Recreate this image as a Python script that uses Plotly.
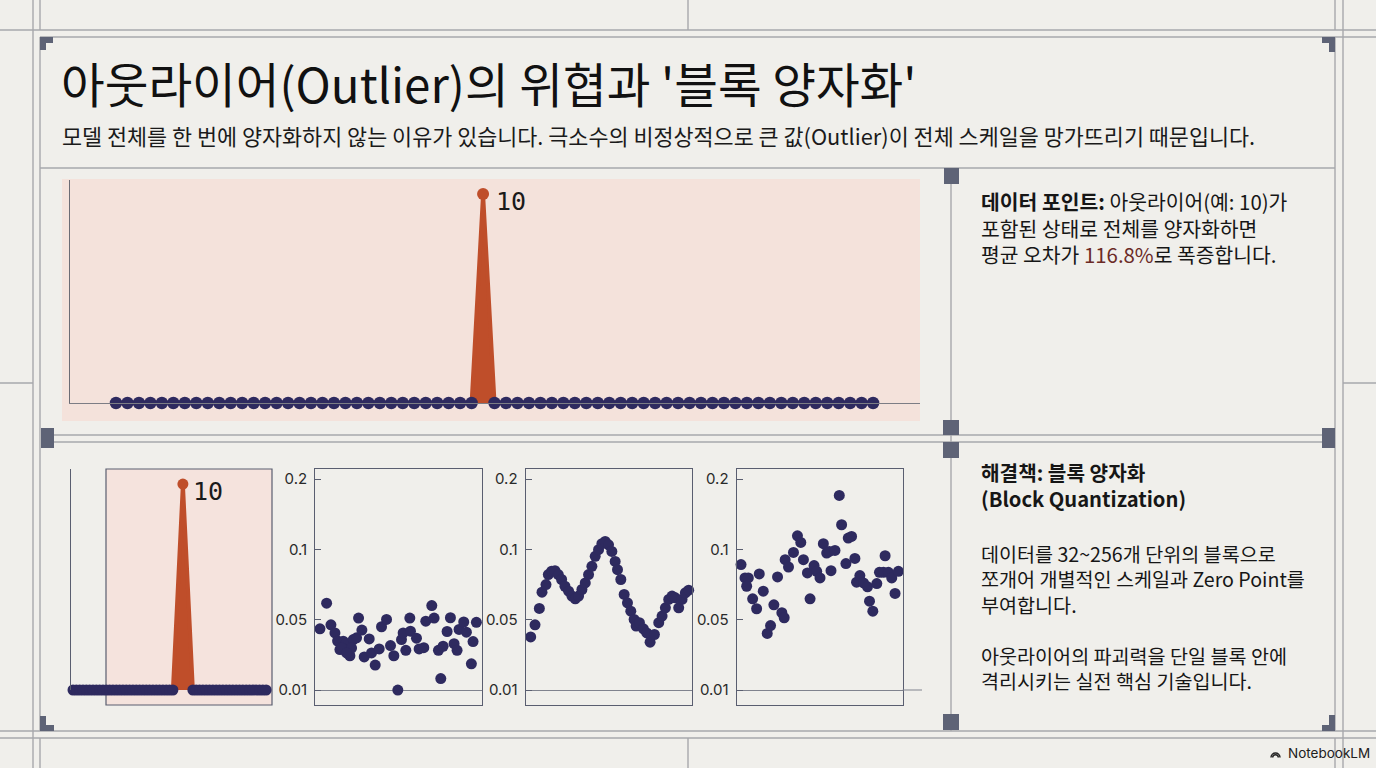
import numpy as np
import plotly.graph_objects as go

W, H = 1376, 768


def X(px):
    return px / W


def Y(py):
    return 1 - py / H


# ---------------- data ----------------
# full tensor (top chart): element index and value
top_index = list(range(67))
top_values = [
    0, 0, 0, 0, 0, 0, 0, 0, 0, 0, 0, 0, 0, 0, 0, 0,
    0, 0, 0, 0, 0, 0, 0, 0, 0, 0, 0, 0, 0, 0, 0, 0,
    10,
    0, 0, 0, 0, 0, 0, 0, 0, 0, 0, 0, 0, 0, 0, 0, 0, 0,
    0, 0, 0, 0, 0, 0, 0, 0, 0, 0, 0, 0, 0, 0, 0, 0, 0,
]

# block 1 (contains the outlier)
block1_index = list(range(0, 31)) + [33] + list(range(36, 59))
block1_values = [
    0, 0, 0, 0, 0, 0, 0, 0, 0, 0, 0, 0, 0, 0, 0, 0,
    0, 0, 0, 0, 0, 0, 0, 0, 0, 0, 0, 0, 0, 0, 0,
    10,
    0, 0, 0, 0, 0, 0, 0, 0, 0, 0, 0, 0, 0, 0, 0, 0,
    0, 0, 0, 0, 0, 0, 0,
]

# blocks 2-4 (element position inside block, value)
block2_x = [1.4, 3.4, 4.7, 5.9, 6.7, 7.4, 8.4, 9.2, 9.9, 10.4, 11.4, 12.4, 13.0, 14.0, 14.7,
            16.2, 16.9, 18.0, 19.2, 19.9, 21.4, 22.6, 23.6, 24.8, 25.9, 26.4, 27.2, 28.4,
            28.6, 30.4, 31.2, 32.6, 33.2, 35.0, 35.7, 37.0, 37.7, 38.4, 39.6, 40.6, 41.7,
            42.6, 43.2, 44.6, 45.4, 46.9, 47.4, 48.4, 7.9, 10.9, 9.4]
block2_y = [0.0448, 0.0618, 0.0471, 0.0425, 0.0379, 0.0330, 0.0378, 0.0364, 0.0330, 0.0295,
            0.0387, 0.0397, 0.0512, 0.0441, 0.0288, 0.0391, 0.0311, 0.0242, 0.0334, 0.0460,
            0.0502, 0.0353, 0.0295, 0.0100, 0.0387, 0.0425, 0.0326, 0.0512, 0.0435, 0.0395,
            0.0334, 0.0341, 0.0492, 0.0601, 0.0512, 0.0326, 0.0165, 0.0349, 0.0433, 0.0514,
            0.0364, 0.0326, 0.0445, 0.0487, 0.0429, 0.0249, 0.0376, 0.0485, 0.0339, 0.0339,
            0.0311]

block3_x = [1.5, 2.8, 4.1, 4.9, 6.1, 6.8, 7.8, 8.8, 9.8, 10.8, 11.8, 12.9, 13.9, 14.9, 15.9,
            16.9, 17.9, 18.9, 19.9, 20.9, 21.9, 22.9, 23.9, 24.9, 25.9, 26.9, 27.6, 28.6,
            29.6, 30.6, 31.6, 32.6, 33.2, 34.2, 35.4, 36.4, 37.4, 38.7, 40.0, 41.0, 42.0,
            43.0, 44.0, 45.0, 46.0, 47.0, 48.0, 49.0]
block3_y = [0.0402, 0.0471, 0.0580, 0.0696, 0.0750, 0.0821, 0.0845, 0.0849, 0.0821, 0.0786,
            0.0738, 0.0703, 0.0668, 0.0649, 0.0668, 0.0715, 0.0762, 0.0821, 0.0880, 0.0951,
            0.0998, 0.1081, 0.1114, 0.1066, 0.0986, 0.0915, 0.0856, 0.0786, 0.0680, 0.0620,
            0.0561, 0.0502, 0.0464, 0.0483, 0.0448, 0.0425, 0.0372, 0.0416, 0.0483, 0.0526,
            0.0585, 0.0644, 0.0668, 0.0656, 0.0585, 0.0644, 0.0691, 0.0710]

block4_x = [1.3, 2.5, 3.5, 3.0, 4.8, 6.0, 6.8, 8.0, 9.2, 10.2, 11.2, 12.3, 13.6, 14.3, 14.6,
            15.6, 17.1, 18.3, 19.3, 20.1, 21.3, 22.1, 23.3, 24.1, 25.1, 26.1, 27.1, 27.9,
            28.4, 29.6, 30.9, 31.6, 32.9, 33.6, 34.6, 35.6, 36.1, 37.1, 38.2, 39.4, 40.0,
            41.0, 42.2, 43.0, 44.2, 44.7, 45.7, 46.7, 47.7, 48.7]
block4_y = [0.0892, 0.0797, 0.0797, 0.0738, 0.0649, 0.0578, 0.0826, 0.0703, 0.0422, 0.0467,
            0.0606, 0.0804, 0.0550, 0.0514, 0.0927, 0.0875, 0.0979, 0.1194, 0.1100, 0.0927,
            0.0833, 0.0649, 0.0885, 0.0844, 0.0797, 0.1081, 0.0974, 0.0986, 0.0849, 0.0993,
            0.1768, 0.1351, 0.0899, 0.1161, 0.1185, 0.0936, 0.0767, 0.0814, 0.0762, 0.0734,
            0.0632, 0.0561, 0.0757, 0.0837, 0.0837, 0.0955, 0.0837, 0.0797, 0.0687, 0.0844]

ytick_values = [0.01, 0.05, 0.1, 0.2]
ytick_labels = ["0.01", "0.05", "0.1", "0.2"]
outlier_label = "10"

# ---------------- style ----------------
BG = "#f0efeb"
NAVY = "#2e2a5f"
ORANGE = "#bf4e2a"
PINK = "#f4e2db"
GRIDLINE = "#a7a8ac"
MARK = "#5e6376"
FRAME = "#5a5e70"
KR = "Noto Sans CJK KR"


def scale_pos(v):
    # equally spaced tick scale 0.01 / 0.05 / 0.1 / 0.2
    return np.interp(v, ytick_values, [0, 1, 2, 3])


fig = go.Figure()

# ---- top chart ----
o = int(np.argmax(top_values))
fig.add_trace(go.Scatter(
    x=top_index[o - 1:o + 2], y=top_values[o - 1:o + 2], mode="lines",
    fill="toself", fillcolor=ORANGE, line=dict(color=ORANGE, width=4),
    xaxis="x", yaxis="y", hoverinfo="skip", showlegend=False))
fig.add_trace(go.Scatter(
    x=[top_index[i] for i in range(len(top_values)) if i != o],
    y=[top_values[i] for i in range(len(top_values)) if i != o],
    mode="markers", marker=dict(color=NAVY, size=12.5),
    cliponaxis=False, xaxis="x", yaxis="y", showlegend=False))
fig.add_trace(go.Scatter(
    x=[top_index[o]], y=[top_values[o]], mode="markers",
    marker=dict(color=ORANGE, size=12), cliponaxis=False,
    xaxis="x", yaxis="y", showlegend=False))

# ---- block 1 ----
o1 = int(np.argmax(block1_values))
fig.add_trace(go.Scatter(
    x=block1_index[o1 - 1:o1 + 2], y=block1_values[o1 - 1:o1 + 2], mode="lines",
    fill="toself", fillcolor=ORANGE, line=dict(color=ORANGE, width=4),
    xaxis="x2", yaxis="y2", hoverinfo="skip", showlegend=False))
fig.add_trace(go.Scatter(
    x=[block1_index[i] for i in range(len(block1_values)) if i != o1],
    y=[block1_values[i] for i in range(len(block1_values)) if i != o1],
    mode="markers", marker=dict(color=NAVY, size=11),
    cliponaxis=False, xaxis="x2", yaxis="y2", showlegend=False))
fig.add_trace(go.Scatter(
    x=[block1_index[o1]], y=[block1_values[o1]], mode="markers",
    marker=dict(color=ORANGE, size=11), cliponaxis=False,
    xaxis="x2", yaxis="y2", showlegend=False))

# ---- blocks 2-4 ----
for k, (bx, by) in enumerate([(block2_x, block2_y), (block3_x, block3_y), (block4_x, block4_y)]):
    n = k + 3
    fig.add_trace(go.Scatter(
        x=bx, y=scale_pos(by), mode="markers",
        marker=dict(color=NAVY, size=11), cliponaxis=False,
        xaxis=f"x{n}", yaxis=f"y{n}", showlegend=False))

layout = dict(
    width=W, height=H, margin=dict(l=0, r=0, t=0, b=0),
    paper_bgcolor=BG, plot_bgcolor="rgba(0,0,0,0)", showlegend=False,
)

noax = dict(showgrid=False, zeroline=False, showticklabels=False, ticks="")
layout["xaxis"] = dict(noax, domain=[X(70), X(920)], range=[-4.01, 70.09],
                       showline=True, linecolor="#7c7d85", linewidth=1.3, anchor="y")
layout["yaxis"] = dict(noax, domain=[Y(403), Y(180)], range=[0, 10.67],
                       showline=True, linecolor="#6b6c74", linewidth=1.3, anchor="x")
layout["xaxis2"] = dict(noax, domain=[X(70.7), X(272)], range=[-0.69, 59.76],
                        showline=False, anchor="y2")
layout["yaxis2"] = dict(noax, domain=[Y(690), Y(469)], range=[0, 10.73],
                        showline=True, linecolor=FRAME, linewidth=1.3, anchor="x2")

frames = [(315.3, 481.7), (525.7, 692.0), (736.7, 902.7)]
for k, (x0, x1) in enumerate(frames):
    n = k + 3
    layout[f"xaxis{n}"] = dict(noax, domain=[X(x0), X(x1)], range=[0, 50],
                               showline=True, mirror=True, linecolor=FRAME,
                               linewidth=1.3, anchor=f"y{n}")
    layout[f"yaxis{n}"] = dict(
        domain=[Y(705), Y(469)], range=[-0.213, 3.144],
        tickvals=list(scale_pos(ytick_values)), ticktext=ytick_labels,
        ticks="inside", ticklen=6, tickwidth=1.2, tickcolor=FRAME,
        showline=True, mirror=True, linecolor=FRAME, linewidth=1.3,
        showgrid=False, zeroline=True, zerolinecolor="#80838e", zerolinewidth=1,
        tickfont=dict(family="Inter", size=15, color="#2a2a2a"),
        ticklabelstandoff=4, anchor=f"x{n}")

shapes = []


def rect(x0, y0, x1, y1, fill, line=None, lw=0, layer="below"):
    shapes.append(dict(type="rect", xref="paper", yref="paper",
                       x0=X(x0), x1=X(x1), y0=Y(y1), y1=Y(y0),
                       fillcolor=fill, line=dict(color=line or fill, width=lw),
                       layer=layer))


def hline(y, x0, x1, color=GRIDLINE, w=1.4):
    shapes.append(dict(type="line", xref="paper", yref="paper",
                       x0=X(x0), x1=X(x1), y0=Y(y), y1=Y(y),
                       line=dict(color=color, width=w), layer="below"))


def vline(x, y0, y1, color=GRIDLINE, w=1.4):
    shapes.append(dict(type="line", xref="paper", yref="paper",
                       x0=X(x), x1=X(x), y0=Y(y0), y1=Y(y1),
                       line=dict(color=color, width=w), layer="below"))


# pink backgrounds
rect(62, 179, 920, 421, PINK)
rect(106, 469, 272, 705, "#f5e3dd", line=FRAME, lw=1.2)
# extension of the 0.01 line in the last block
shapes.append(dict(type="line", xref="paper", yref="paper", x0=X(902.7), x1=X(922),
                   y0=Y(690), y1=Y(690), line=dict(color="#80838e", width=1)))

# background grid / frame lines
hline(30, 0, W)
hline(37, 40, W)
hline(731, 0, W)
hline(738, 0, W)
hline(383, 0, 33)
hline(383, 1343, W)
hline(168, 40, 1335)
hline(435, 54, 1335)
hline(442, 54, 1335)
vline(33, 0, H)
vline(40, 0, 30)
vline(40, 37, 731)
vline(40, 738, H)
vline(1335, 0, 30)
vline(1335, 37, 731)
vline(1335, 738, H)
vline(1343, 0, H)
vline(688, 0, 30)
vline(688, 738, H)
vline(951, 168, 731)

# corner brackets and junction squares
for (a, b, c, d) in [
    (40, 37, 53, 43), (40, 37, 46, 50),
    (1322, 37, 1335, 43), (1329, 37, 1335, 52),
    (40, 725, 54, 731), (40, 716, 46, 731),
    (1322, 725, 1335, 731), (1329, 715, 1335, 731),
    (944, 168, 959, 184), (943, 420, 959, 435), (943, 442, 959, 458),
    (1322, 428, 1335, 448), (41, 428, 54, 448), (943, 714, 959, 730),
]:
    rect(a, b, c, d, MARK, layer="above")

# NotebookLM icon (nested arches)
for r in [4.5, 2.8]:
    cx, cy = 1275.5, 757.5
    path = (f"M {X(cx - r)} {Y(cy)} C {X(cx - r)} {Y(cy - 1.3 * r)}, "
            f"{X(cx + r)} {Y(cy - 1.3 * r)}, {X(cx + r)} {Y(cy)}")
    shapes.append(dict(type="path", xref="paper", yref="paper", path=path,
                       line=dict(color="#222", width=1.5)))

layout["shapes"] = shapes

ann = []


def text(x, y, s, size, color="#161616", family=KR, anchor="left"):
    ann.append(dict(x=X(x), y=Y(y), xref="paper", yref="paper", text=s,
                    showarrow=False, xanchor=anchor, yanchor="middle", align="left",
                    font=dict(family=family, size=size, color=color)))


text(59, 82, "아웃라이어(Outlier)의 위협과 '블록 양자화'", 47.5, "#111111")
text(60, 135, "모델 전체를 한 번에 양자화하지 않는 이유가 있습니다. 극소수의 비정상적으로 큰 값(Outlier)이 "
     "전체 스케일을 망가뜨리기 때문입니다.", 21.8, "#1a1a1a")

text(979, 227,
     "<b>데이터 포인트:</b> 아웃라이어(예: 10)가<br>"
     "포함된 상태로 전체를 양자화하면<br>"
     "평균 오차가 <span style='color:#6b2a26'>116.8%</span>로 폭증합니다.", 20.4)

text(979, 485, "<b>해결책: 블록 양자화<br>(Block Quantization)</b>", 20.2)
text(979, 616.5,
     "데이터를 32~256개 단위의 블록으로<br>"
     "쪼개어 개별적인 스케일과 Zero Point를<br>"
     "부여합니다.<br><br>"
     "아웃라이어의 파괴력을 단일 블록 안에<br>"
     "격리시키는 실전 핵심 기술입니다.", 19.6)

text(1286, 753, "NotebookLM", 13.5, "#202020", family="Inter")

ann.append(dict(x=top_index[o], y=top_values[o], xref="x", yref="y", text=outlier_label,
                showarrow=False, xanchor="left", yanchor="middle", xshift=11, yshift=-7,
                font=dict(family="DejaVu Sans Mono", size=25, color="#1a1a1a")))
ann.append(dict(x=block1_index[o1], y=block1_values[o1], xref="x2", yref="y2",
                text=outlier_label, showarrow=False, xanchor="left", yanchor="middle",
                xshift=8, yshift=-7,
                font=dict(family="DejaVu Sans Mono", size=25, color="#1a1a1a")))

layout["annotations"] = ann
fig.update_layout(**layout)
fig.write_html("out.html", config={"displayModeBar": False},
               post_script="document.body.style.margin='0';document.body.style.overflow='hidden';")
